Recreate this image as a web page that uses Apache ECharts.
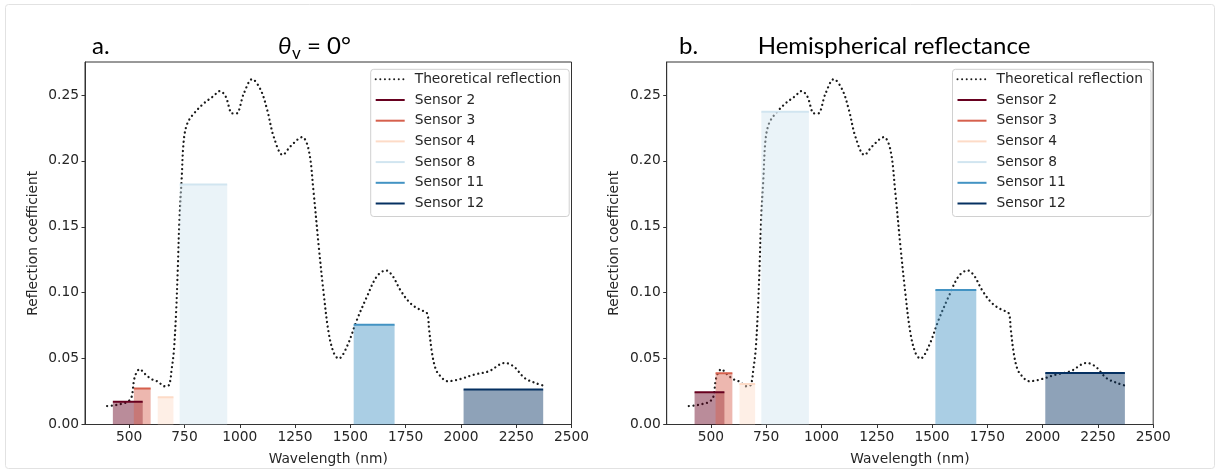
<!DOCTYPE html>
<html><head><meta charset="utf-8">
<script src="https://cdn.jsdelivr.net/npm/echarts@6/dist/echarts.min.js"></script>
<style>html,body{margin:0;padding:0;background:#fff}#c{width:1227px;height:473px}</style>
</head><body><div id="c"></div>
<script>
// Theoretical reflection curve (wavelength nm, reflection coefficient)
const wavelength = [400,430,460,490,510,525,548,570,600,630,660,680,692,702,712,720,727,737,747,763,793,838,880,910,936,966,985,1018,1056,1094,1124,1154,1194,1229,1282,1312,1334,1357,1379,1402,1425,1447,1485,1530,1575,1620,1661,1690,1726,1771,1816,1846,1856,1869,1884,1900,1940,1997,2061,2126,2198,2239,2287,2335,2384];
const reflection = [0.0140,0.0145,0.0155,0.0170,0.0205,0.0360,0.0420,0.0385,0.0345,0.0325,0.0290,0.0300,0.0420,0.0560,0.0850,0.1200,0.1550,0.1860,0.2160,0.2285,0.2360,0.2437,0.2490,0.2530,0.2488,0.2360,0.2360,0.2510,0.2620,0.2540,0.2386,0.2180,0.2045,0.2110,0.2180,0.2080,0.1755,0.1350,0.0998,0.0694,0.0543,0.0500,0.0593,0.0795,0.0970,0.1124,0.1169,0.1130,0.1020,0.0920,0.0870,0.0846,0.0720,0.0545,0.0430,0.0380,0.0328,0.0345,0.0379,0.0404,0.0467,0.0440,0.0354,0.0316,0.0290];

const sensorNames = ['Sensor 2','Sensor 3','Sensor 4','Sensor 8','Sensor 11','Sensor 12'];
const bandStart = [426, 521, 629, 728, 1515, 2012];
const bandEnd   = [561, 597, 700, 943, 1700, 2372];
const valuesNadir = [0.0172, 0.0273, 0.0207, 0.1820, 0.0757, 0.0266];
const valuesHemi  = [0.0245, 0.0389, 0.0308, 0.2373, 0.1020, 0.0391];
const sensorColors = ['#67001f','#d6604d','#fddbc7','#d1e5f0','#4393c3','#053061'];

const xTicks = [500,750,1000,1250,1500,1750,2000,2250,2500];
const yTicks = [0,0.05,0.10,0.15,0.20,0.25];

const panelLeft = [85, 666.7];
const FS = 13.8;
const TXT = '#262626';
const FONT = 'DejaVu Sans';

const chart = echarts.init(document.getElementById('c'), null, {renderer:'canvas'});

const grids = panelLeft.map(l => ({left:l, top:62, width:486.5, height:362.5, show:true, borderColor:'#333', borderWidth:1, backgroundColor:'transparent'}));

const xAxes = [0,1].map(i => ({
  type:'value', gridIndex:i, min:300, max:2500,
  name:'Wavelength (nm)', nameLocation:'middle', nameGap:28,
  nameTextStyle:{fontSize:FS, color:TXT, fontFamily:FONT},
  axisLine:{show:true, lineStyle:{color:'#333', width:1}},
  axisTick:{show:true, length:3.5, lineStyle:{color:'#333'}, customValues:xTicks},
  axisLabel:{fontSize:FS, color:TXT, fontFamily:FONT, margin:6, customValues:xTicks, formatter:v=>String(v)},
  splitLine:{show:false}
}));
const yAxes = [0,1].map(i => ({
  type:'value', gridIndex:i, min:0, max:0.275,
  name:'Reflection coefficient', nameLocation:'middle', nameGap:45,
  nameTextStyle:{fontSize:FS, color:TXT, fontFamily:FONT},
  axisLine:{show:true, lineStyle:{color:'#333', width:1}},
  axisTick:{show:true, length:3.5, lineStyle:{color:'#333'}, customValues:yTicks},
  axisLabel:{fontSize:FS, color:TXT, fontFamily:FONT, margin:6, customValues:yTicks, formatter:v=>v.toFixed(2)},
  splitLine:{show:false}
}));

const series = [];
[valuesNadir, valuesHemi].forEach((vals, p) => {
  series.push({
    name:'Theoretical reflection', type:'line', xAxisIndex:p, yAxisIndex:p,
    data: wavelength.map((w,i)=>[w, reflection[i]]),
    smooth:0.35, symbol:'none', silent:true,
    itemStyle:{color:'#1a1a1a'},
    lineStyle:{color:'#1a1a1a', width:2.3, type:[0.01,4.6], cap:'round'},
    z:2
  });
  sensorNames.forEach((n, k) => {
    series.push({
      name:n, type:'line', xAxisIndex:p, yAxisIndex:p,
      data:[[bandStart[k], vals[k]],[bandEnd[k], vals[k]]],
      symbol:'none', silent:true,
      lineStyle:{color:sensorColors[k], width:2},
      itemStyle:{color:sensorColors[k]},
      areaStyle:{color:sensorColors[k], opacity:0.45},
      z:3
    });
  });
});

const legendNames = ['Theoretical reflection'].concat(sensorNames);
const legends = [370.7, 952.5].map(l => ({
  data:legendNames, orient:'vertical', left:l, top:69.3,
  itemWidth:29, itemHeight:14, itemGap:6.7,
  padding:[3,8,6,4], borderColor:'#d0d0d0', borderWidth:1, borderRadius:3,
  backgroundColor:'rgba(255,255,255,0.8)',
  itemStyle:{opacity:0},
  textStyle:{fontSize:FS, color:TXT, fontFamily:FONT, padding:[0,0,0,5]},
  selectedMode:false
}));

const TF = 'Lato';
const graphic = [
  {type:'rect', silent:true, shape:{x:5.5, y:4.5, width:1209, height:464, r:3}, style:{fill:'none', stroke:'#e2e2e2', lineWidth:1}},
  {type:'text', silent:true, style:{x:92, y:46, text:'a.', font:'24px '+TF, fill:'#000', textVerticalAlign:'middle'}},
  {type:'text', silent:true, style:{x:278, y:46, text:'θ', font:'italic 24px '+TF, fill:'#000', textVerticalAlign:'middle'}},
  {type:'text', silent:true, style:{x:292, y:54, text:'v', font:'17px '+TF, fill:'#000', textVerticalAlign:'middle'}},
  {type:'text', silent:true, style:{x:307, y:46, text:'= 0°', font:'24px '+TF, fill:'#000', textVerticalAlign:'middle'}},
  {type:'text', silent:true, style:{x:679, y:46, text:'b.', font:'24px '+TF, fill:'#000', textVerticalAlign:'middle'}},
  {type:'text', silent:true, style:{x:894, y:46, text:'Hemispherical reflectance', font:'24px '+TF, fill:'#000', textAlign:'center', textVerticalAlign:'middle'}}
];

chart.setOption({
  animation:false,
  backgroundColor:'#fff',
  grid:grids, xAxis:xAxes, yAxis:yAxes, series:series, legend:legends, graphic:graphic
});
</script></body></html>
